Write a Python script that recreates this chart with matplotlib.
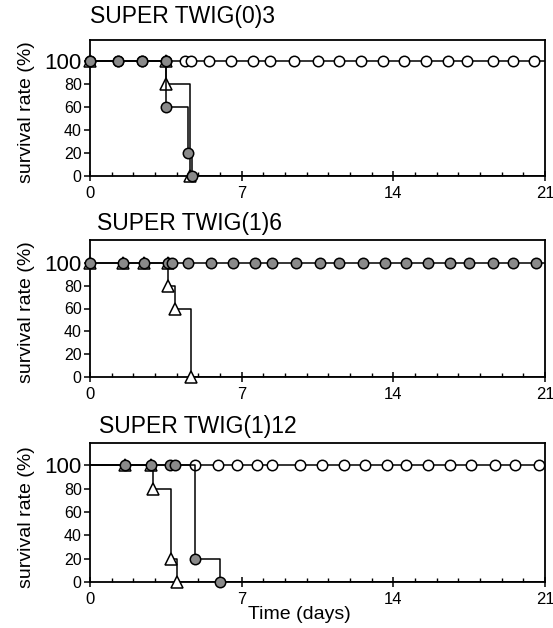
import matplotlib
matplotlib.use("Agg")
import matplotlib.pyplot as plt
from matplotlib.ticker import MultipleLocator

plt.rcParams['font.family'] = ['Liberation Sans', 'DejaVu Sans']

#-----------------DONNEES-----------------#

titles = ["SUPER TWIG(0)3", "SUPER TWIG(1)6", "SUPER TWIG(1)12"]

# open circles (all survive)
open_days = [
    [0, 1.3, 2.4, 3.5, 4.4, 4.65, 5.5, 6.5, 7.5, 8.3, 9.4, 10.5, 11.5, 12.5, 13.5, 14.5, 15.5, 16.5, 17.4, 18.6, 19.5, 20.5],
    [],
    [4.85, 5.9, 6.8, 7.7, 8.4, 9.7, 10.7, 11.7, 12.7, 13.7, 14.6, 15.6, 16.6, 17.6, 18.7, 19.6, 20.7],
]
open_vals = [
    [100] * 22,
    [],
    [100] * 17,
]

# filled grey circles
fill_days = [
    [0, 1.3, 2.4, 3.5, 3.5, 4.5, 4.7],
    [0, 1.5, 2.5, 3.6, 3.8, 4.5, 5.6, 6.6, 7.6, 8.4, 9.5, 10.6, 11.5, 12.6, 13.6, 14.6, 15.6, 16.6, 17.5, 18.6, 19.5, 20.6],
    [1.6, 2.8, 3.7, 3.9, 4.85, 6.0],
]
fill_vals = [
    [100, 100, 100, 100, 60, 20, 0],
    [100] * 22,
    [100, 100, 100, 100, 20, 0],
]

# open triangles
tri_days = [
    [0, 3.5, 3.5, 4.6],
    [0, 1.5, 2.5, 3.6, 3.6, 3.9, 4.65],
    [1.6, 2.8, 2.9, 3.75, 4.0],
]
tri_vals = [
    [100, 100, 80, 0],
    [100, 100, 100, 100, 80, 60, 0],
    [100, 100, 80, 20, 0],
]

ylims = [118, 120, 119]
xticks = [0, 7, 14, 21]
yticks = [0, 20, 40, 60, 80, 100]

#-----------------FONCTIONS-----------------#

def draw_series(ax, days, vals, marker, face, ms, z):
    if len(days) == 0:
        return
    # ligne en escalier depuis le jour 0 jusqu'au jour 21
    xs = [0] + days + [21]
    ys = [100] + vals + [vals[-1]]
    ax.plot(xs, ys, drawstyle='steps-post', color='black', lw=1.1, zorder=z)
    ax.plot(days, vals, linestyle='none', marker=marker, ms=ms,
            mfc=face, mec='black', mew=1.1, zorder=z + 0.5, clip_on=False)

#-----------------FIGURE-----------------#

fig = plt.figure(figsize=(5.53, 6.28), dpi=100)

# (bas, hauteur) en fraction de figure
boxes = [(1 - 176 / 628, 136 / 628), (1 - 377 / 628, 137 / 628), (1 - 582 / 628, 139 / 628)]
left = 90 / 553
width = (545 - 90) / 553
title_x = [0.0, 0.015, 0.02]
title_pad = [0.09, 0.04, 0.035]

for k in range(3):
    ax = fig.add_axes([left, boxes[k][0], width, boxes[k][1]])
    draw_series(ax, open_days[k], open_vals[k], 'o', 'white', 7.5, 2)
    draw_series(ax, tri_days[k], tri_vals[k], '^', 'white', 8, 3)
    draw_series(ax, fill_days[k], fill_vals[k], 'o', '#8a8a8a', 7.5, 4)

    ax.set_xlim(0, 21)
    ax.set_ylim(0, ylims[k])
    ax.set_xticks(xticks)
    ax.xaxis.set_minor_locator(MultipleLocator(1))
    ax.set_yticks(yticks)
    labels = ax.set_yticklabels([str(v) for v in yticks], fontsize=11.5)
    labels[-1].set_fontsize(16)
    ax.set_xticklabels([str(v) for v in xticks], fontsize=12)
    ax.tick_params(axis='x', which='major', direction='inout', length=7, width=1.1, pad=4)
    ax.tick_params(axis='x', which='minor', direction='in', length=3, width=1.0)
    ax.tick_params(axis='y', direction='out', length=4, width=1.1, pad=2)
    for s in ax.spines.values():
        s.set_linewidth(1.3)
    ax.set_ylabel("survival rate (%)", fontsize=14)
    ax.yaxis.set_label_coords(-0.12, 0.47)
    ax.text(title_x[k], 1 + title_pad[k], titles[k], transform=ax.transAxes,
            fontsize=16.5, ha='left', va='bottom')
    if k == 2:
        ax.set_xlabel("Time (days)", fontsize=14)
        ax.xaxis.set_label_coords(0.46, -0.17)

fig.savefig("out.png", dpi=100)
